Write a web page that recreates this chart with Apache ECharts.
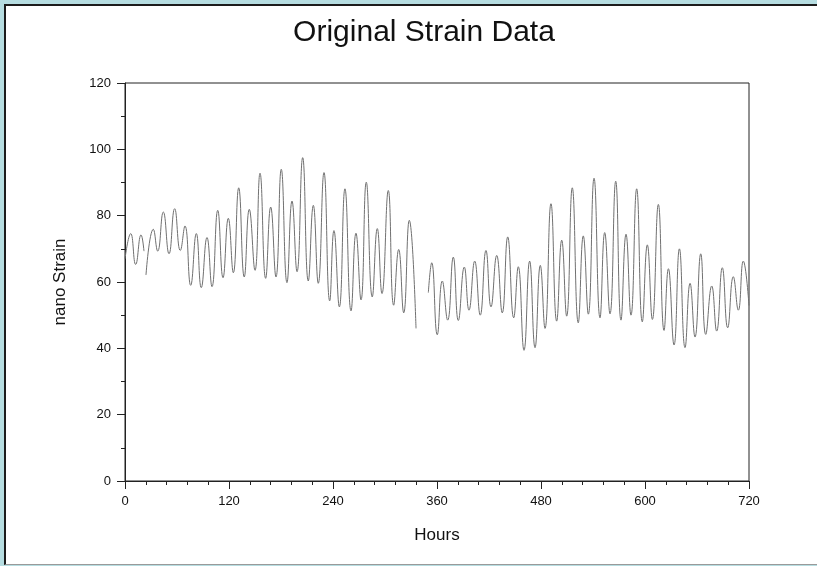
<!DOCTYPE html>
<html>
<head>
<meta charset="utf-8">
<script src="https://cdn.jsdelivr.net/npm/echarts@6/dist/echarts.min.js"></script>
<style>
html, body {
    margin: 0;
    padding: 0;
    width: 817px;
    height: 566px;
    overflow: hidden;
    background: #b6dde1;
}
.panel {
    position: absolute;
    left: 4px;
    top: 4px;
    width: 820px;
    height: 558px;
    background: #fff;
    border-top: 2px solid #1c1c1c;
    border-left: 2px solid #1c1c1c;
    border-bottom: 1px solid #9a9a9a;
}
#chart {
    position: absolute;
    left: 0;
    top: 0;
    width: 817px;
    height: 566px;
}
</style>
</head>
<body>
<div class="panel"></div>
<div id="chart"></div>
<script>
const seg1Hours = [0, 6.6, 12.3, 18.5, 21.9]
const seg1Strain = [67, 74.6, 65.3, 74.2, 69.3]

const seg2Hours = [
    24.2, 32.7, 37.7, 44.2, 50.8, 57.3, 63.8, 69.2, 75.8, 82.3,
    88.0, 94.6, 100.4, 107.0, 113.1, 119.2, 125.0, 131.2, 137.6, 143.4,
    150.0, 155.8, 162.3, 168.1, 174.2, 180.3, 186.9, 192.7, 198.5, 205.0,
    211.5, 217.3, 223.0, 229.6, 236.2, 241.1, 247.3, 253.8, 260.8, 266.5,
    272.3, 278.4, 285.3, 291.1, 296.5, 303.8, 310.0, 315.8, 321.6, 328.0,
    335.8
]
const seg2Strain = [
    62.1, 75.9, 69.3, 81.1, 68.5, 82.1, 69.5, 76.9, 59.0, 74.6,
    58.3, 73.4, 58.6, 81.6, 61.3, 79.2, 62.8, 88.4, 61.5, 81.9,
    63.5, 92.8, 61.1, 82.6, 61.5, 94.0, 59.8, 84.4, 63.1, 97.5,
    60.3, 83.1, 59.6, 93.0, 54.3, 75.5, 52.5, 88.1, 51.3, 74.7,
    54.6, 90.1, 55.5, 76.1, 56.5, 87.6, 53.0, 69.8, 50.7, 78.6,
    46.0
]

const seg3Hours = [
    350.0, 353.9, 360.3, 366.1, 372.3, 378.8, 384.6, 391.5, 396.9, 403.5,
    409.9, 416.5, 422.3, 428.9, 435.3, 441.6, 448.5, 453.8, 460.4, 466.9,
    473.1, 479.2, 484.6, 491.5, 498.1, 503.9, 509.6, 516.1, 523.0, 528.8,
    534.6, 541.2, 548.1, 553.5, 559.6, 566.2, 572.3, 578.1, 583.8, 590.4,
    596.9, 602.7, 608.5, 615.4, 622.0, 627.0, 633.5, 639.7, 646.2, 652.0,
    657.7, 664.3, 670.1, 677.0, 682.7, 689.2, 695.4, 701.9, 707.7, 713.4,
    720
]
const seg3Strain = [
    56.8, 65.8, 44.1, 60.3, 48.5, 67.5, 48.4, 64.5, 51.5, 66.3,
    50.0, 69.5, 52.5, 68.0, 50.7, 73.6, 49.2, 64.6, 39.4, 66.3,
    40.2, 65.0, 46.0, 83.6, 48.2, 72.6, 49.7, 88.4, 47.7, 73.9,
    50.3, 91.3, 49.2, 74.9, 50.4, 90.4, 48.5, 74.4, 50.0, 88.1,
    48.0, 71.2, 48.7, 83.4, 45.4, 64.0, 41.0, 70.0, 40.2, 59.6,
    43.4, 68.5, 44.2, 58.8, 45.2, 64.3, 46.2, 61.6, 51.5, 66.3,
    52.9
]

const xTicks = [0, 720, 120]   // min, max, interval
const yTicks = [0, 120, 20]

const pairs = (hs, vs) => hs.map((h, i) => [h, vs[i]])

const chart = echarts.init(document.getElementById('chart'))

const lineSeries = data => ({
    type: 'line',
    data: data,
    smooth: 0.5,
    showSymbol: false,
    lineStyle: {
        color: '#707070',
        width: 1
    },
    silent: true,
    animation: false
})

const labelFont = {
    color: '#111',
    fontSize: 13,
    fontFamily: 'Liberation Sans'
}

const option = {
    title: {
        text: 'Original Strain Data',
        left: 419,
        textAlign: 'center',
        top: 13,
        textStyle: {
            color: '#111',
            fontSize: 30,
            fontWeight: 'normal',
            fontFamily: 'Liberation Sans'
        }
    },
    grid: {
        left: 125,
        top: 83,
        width: 624,
        height: 398,
        show: true,
        borderColor: '#222',
        borderWidth: 1,
        backgroundColor: 'transparent'
    },
    xAxis: {
        type: 'value',
        min: xTicks[0],
        max: xTicks[1],
        interval: xTicks[2],
        name: 'Hours',
        nameLocation: 'middle',
        nameGap: 46,
        nameTextStyle: {
            color: '#111',
            fontSize: 17,
            fontFamily: 'Liberation Sans'
        },
        axisLine: { lineStyle: { color: '#222', width: 1 } },
        axisTick: { length: 8, lineStyle: { color: '#222' } },
        minorTick: { show: true, splitNumber: 5, length: 4, lineStyle: { color: '#222' } },
        splitLine: { show: false },
        axisLabel: Object.assign({ margin: 14 }, labelFont)
    },
    yAxis: {
        type: 'value',
        min: yTicks[0],
        max: yTicks[1],
        interval: yTicks[2],
        name: 'nano Strain',
        nameLocation: 'middle',
        nameGap: 56,
        nameTextStyle: {
            color: '#111',
            fontSize: 17,
            fontFamily: 'Liberation Sans'
        },
        axisLine: { show: true, lineStyle: { color: '#222', width: 1 } },
        axisTick: { show: true, length: 8, lineStyle: { color: '#222' } },
        minorTick: { show: true, splitNumber: 2, length: 4, lineStyle: { color: '#222' } },
        splitLine: { show: false },
        axisLabel: Object.assign({ margin: 14 }, labelFont)
    },
    series: [
        lineSeries(pairs(seg1Hours, seg1Strain)),
        lineSeries(pairs(seg2Hours, seg2Strain)),
        lineSeries(pairs(seg3Hours, seg3Strain))
    ]
}

chart.setOption(option)
</script>
</body>
</html>
